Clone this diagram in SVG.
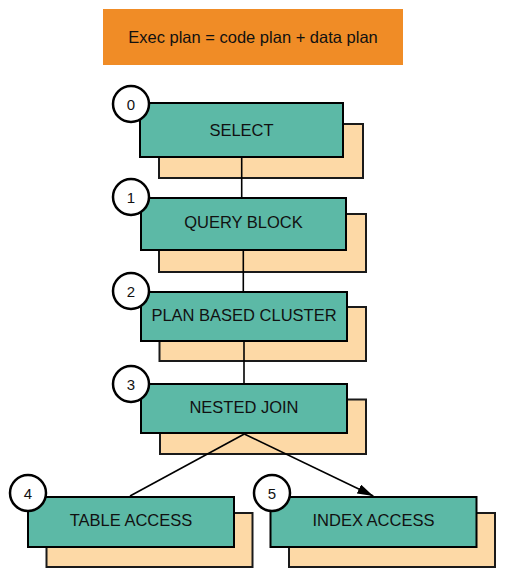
<svg xmlns="http://www.w3.org/2000/svg" width="509" height="580" viewBox="0 0 509 580">
<defs>
<style>
.sh{fill:#fdd9a6;stroke:#1a1a1a;stroke-width:2}
.bx{fill:#5cb9a6;stroke:#000;stroke-width:2}
.ci{fill:#fff;stroke:#000;stroke-width:2.5}
.lb{font-family:"Liberation Sans",Arial,sans-serif;font-size:16.5px;fill:#111;text-anchor:middle;dominant-baseline:central}
.nm{font-family:"Liberation Sans",Arial,sans-serif;font-size:15px;fill:#111;text-anchor:middle;dominant-baseline:central}
.cn{stroke:#000;stroke-width:1.6;fill:none}
</style>
<marker id="ah" viewBox="0 0 16 10" refX="16" refY="5" markerWidth="16" markerHeight="10" markerUnits="userSpaceOnUse" orient="auto">
<path d="M0,0 L16,5 L0,10 Z" fill="#000"/>
</marker>
</defs>
<rect width="509" height="580" fill="#fff"/>
<g id="title">
<rect x="103" y="9" width="300" height="56" fill="#f08c26"/>
<text class="lb" x="253" y="37">Exec plan = code plan + data plan</text>
</g>
<g id="node0">
<rect class="sh" x="159" y="124" width="204" height="54"/>
<rect class="bx" x="140" y="103" width="203" height="54"/>
<text class="lb" x="241.5" y="130">SELECT</text>
<circle class="ci" cx="131" cy="104" r="18"/>
<text class="nm" x="131" y="104">0</text>
</g>
<g id="node1">
<rect class="sh" x="159" y="214" width="207" height="58"/>
<rect class="bx" x="141" y="198" width="205" height="52"/>
<text class="lb" x="243.5" y="222">QUERY BLOCK</text>
<circle class="ci" cx="131" cy="197" r="18"/>
<text class="nm" x="131" y="197">1</text>
</g>
<g id="node2">
<rect class="sh" x="159.5" y="307" width="206.5" height="54"/>
<rect class="bx" x="141" y="292" width="206" height="49"/>
<text class="lb" x="244" y="315">PLAN BASED CLUSTER</text>
<circle class="ci" cx="131" cy="291" r="18"/>
<text class="nm" x="131" y="291">2</text>
</g>
<g id="node3">
<rect class="sh" x="160" y="399.5" width="206" height="54.5"/>
<rect class="bx" x="141" y="384" width="206" height="49"/>
<text class="lb" x="244" y="407">NESTED JOIN</text>
<circle class="ci" cx="131" cy="384" r="18"/>
<text class="nm" x="131" y="384">3</text>
</g>
<g id="node4">
<rect class="sh" x="46.5" y="513" width="206" height="54"/>
<rect class="bx" x="28" y="497" width="206" height="50"/>
<text class="lb" x="131" y="520">TABLE ACCESS</text>
<circle class="ci" cx="28" cy="493" r="18"/>
<text class="nm" x="28" y="493">4</text>
</g>
<g id="node5">
<rect class="sh" x="289" y="513" width="206" height="54"/>
<rect class="bx" x="270.5" y="497" width="206" height="50"/>
<text class="lb" x="373.5" y="520">INDEX ACCESS</text>
<circle class="ci" cx="272" cy="493" r="18"/>
<text class="nm" x="272" y="493">5</text>
</g>
<g id="connectors">
<line class="cn" x1="241.7" y1="158" x2="241.7" y2="197"/>
<line class="cn" x1="243.3" y1="251" x2="243.3" y2="291"/>
<line class="cn" x1="244" y1="342" x2="244" y2="383"/>
<line class="cn" x1="244.3" y1="434" x2="130" y2="496"/>
<line class="cn" x1="244.3" y1="434" x2="373.3" y2="496" marker-end="url(#ah)"/>
</g>
</svg>
